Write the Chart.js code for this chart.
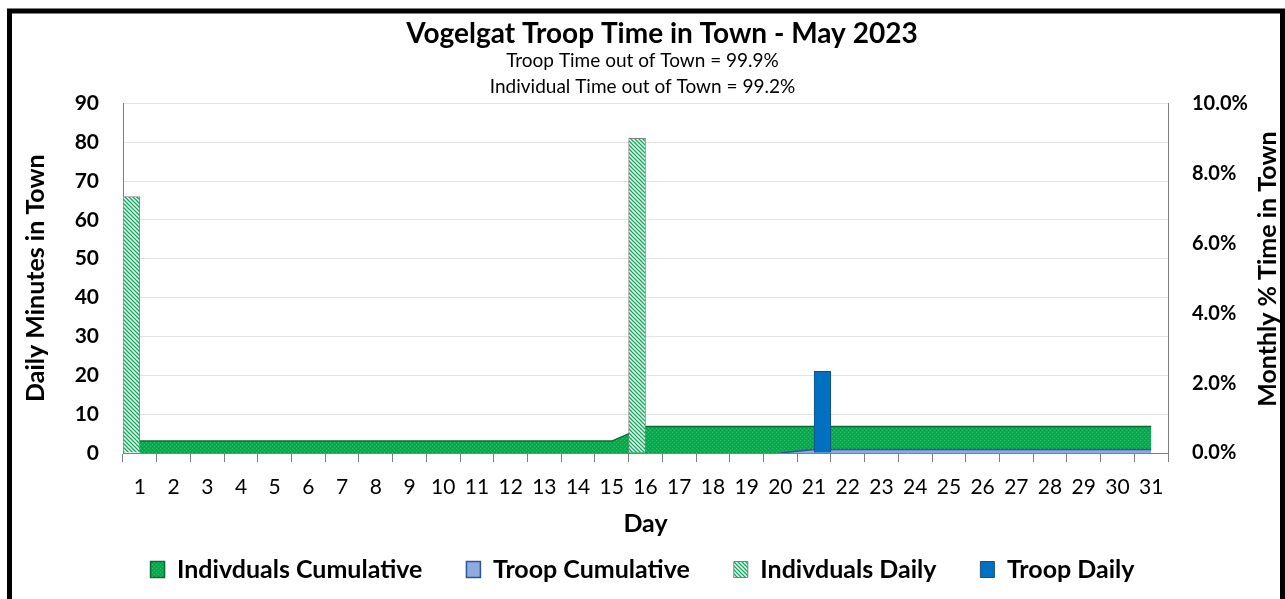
<!DOCTYPE html>
<html>
<head>
<meta charset="utf-8">
<script src="https://cdn.jsdelivr.net/npm/chart.js@4/dist/chart.umd.min.js"></script>
<style>
html,body{margin:0;padding:0;background:#fff;}
#wrap{width:1285px;height:599px;position:relative;}
</style>
</head>
<body>
<div id="wrap"><canvas id="c"></canvas></div>
<script>
const days = ['1','2','3','4','5','6','7','8','9','10','11','12','13','14','15','16','17','18','19','20','21','22','23','24','25','26','27','28','29','30','31'];
const indDaily   = [66,null,null,null,null,null,null,null,null,null,null,null,null,null,null,81,null,null,null,null,null,null,null,null,null,null,null,null,null,null,null];
const troopDaily = [null,null,null,null,null,null,null,null,null,null,null,null,null,null,null,null,null,null,null,null,21,null,null,null,null,null,null,null,null,null,null];
const indCum     = [0.34,0.34,0.34,0.34,0.34,0.34,0.34,0.34,0.34,0.34,0.34,0.34,0.34,0.34,0.34,0.76,0.76,0.76,0.76,0.76,0.76,0.76,0.76,0.76,0.76,0.76,0.76,0.76,0.76,0.76,0.76];
const troopCum   = [null,null,null,null,null,null,null,null,null,null,null,null,null,null,null,null,null,null,null,0,0.1,0.1,0.1,0.1,0.1,0.1,0.1,0.1,0.1,0.1,0.1];
const titleText = 'Vogelgat Troop Time in Town - May 2023';
const subtitleLines = ['Troop Time out of Town = 99.9%', 'Individual Time out of Town = 99.2%'];
const leftTitle = 'Daily Minutes in Town';
const rightTitle = 'Monthly % Time in Town';
const xTitle = 'Day';

const FONT = 'Lato, "Open Sans", sans-serif';

function hatchPattern() {
  const c = document.createElement('canvas');
  c.width = 4; c.height = 4;
  const g = c.getContext('2d');
  g.fillStyle = '#ffffff'; g.fillRect(0,0,4,4);
  g.strokeStyle = '#00B050'; g.lineWidth = 1.3;
  g.beginPath();
  g.moveTo(-1,-1); g.lineTo(5,5);
  g.moveTo(-1,3); g.lineTo(1,5);
  g.moveTo(3,-1); g.lineTo(5,1);
  g.stroke();
  return g.createPattern(c, 'repeat');
}
function dotPattern() {
  const c = document.createElement('canvas');
  c.width = 4; c.height = 4;
  const g = c.getContext('2d');
  g.fillStyle = '#00B050'; g.fillRect(0,0,4,4);
  g.fillStyle = '#2cbf68'; g.fillRect(0,0,1,1); g.fillRect(2,2,1,1);
  g.fillStyle = '#00a349'; g.fillRect(2,0,1,1); g.fillRect(0,2,1,1);
  return g.createPattern(c, 'repeat');
}

const framePlugin = {
  id: 'frame',
  afterDraw(chart) {
    const ctx = chart.ctx;
    ctx.save();
    ctx.strokeStyle = '#000';
    ctx.lineWidth = 5;
    ctx.strokeRect(9.5, 11, 1273, 620);
    ctx.fillStyle = '#000';
    ctx.textAlign = 'center';
    ctx.textBaseline = 'middle';
    ctx.font = 'bold 28px ' + FONT;
    ctx.fillText(titleText, 662, 34);
    ctx.font = 'bold 25px ' + FONT;
    const a = chart.chartArea;
    ctx.translate(1268, (a.top + a.bottom) / 2 - 9);
    ctx.rotate(-Math.PI / 2);
    ctx.fillText(rightTitle, 0, 0);
    ctx.restore();
  }
};

new Chart(document.getElementById('c'), {
  data: {
    labels: days,
    datasets: [
      { type: 'line', label: 'Indivduals Cumulative', data: indCum, yAxisID: 'y2', order: 2,
        backgroundColor: dotPattern(), borderColor: '#0b6b34', borderWidth: 1.5, fill: 'origin',
        pointRadius: 0, tension: 0 },
      { type: 'line', label: 'Troop Cumulative', data: troopCum, yAxisID: 'y2', order: 1,
        backgroundColor: '#8FAADC', borderColor: '#2F5597', borderWidth: 1.5, fill: 'origin',
        pointRadius: 0, tension: 0 },
      { type: 'bar', label: 'Indivduals Daily', data: indDaily, yAxisID: 'y', order: 0,
        backgroundColor: hatchPattern(), borderColor: '#808080', borderWidth: 1,
        categoryPercentage: 1, barPercentage: 1 },
      { type: 'bar', label: 'Troop Daily', data: troopDaily, yAxisID: 'y', order: 0,
        backgroundColor: '#0070C0', borderColor: '#1F4E79', borderWidth: 1,
        categoryPercentage: 1, barPercentage: 1 }
    ]
  },
  options: {
    responsive: true,
    maintainAspectRatio: false,
    animation: false,
    devicePixelRatio: 1,
    layout: { padding: { left: 0, right: 0, top: 0, bottom: 7 } },
    plugins: {
      tooltip: { enabled: false },
      title: { display: false },
      subtitle: { display: true, text: subtitleLines, color: '#000',
        font: { family: FONT, size: 19, weight: 'normal', lineHeight: 1.35 },
        padding: { top: 48, bottom: 4 } },
      legend: { position: 'bottom',
        labels: { color: '#000', font: { family: FONT, size: 25, weight: 'bold' },
          boxWidth: 14, boxHeight: 16, padding: 44,
          sort: (a, b) => a.datasetIndex - b.datasetIndex } }
    },
    scales: {
      x: {
        offset: true,
        grid: { display: true, offset: true, drawOnChartArea: false, drawTicks: true, tickLength: 9, color: '#808080' },
        border: { display: true, color: '#808080', width: 1 },
        ticks: { color: '#000', font: { family: FONT, size: 21 }, padding: 13, maxRotation: 0, autoSkip: false },
        title: { display: true, text: xTitle, color: '#000', font: { family: FONT, size: 25, weight: 'bold', lineHeight: 1.2 },
          padding: { top: 0, bottom: -26 } },
        afterFit(s) { s.height = 60; }
      },
      y: {
        position: 'left', min: 0, max: 90,
        ticks: { stepSize: 10, color: '#000', font: { family: FONT, size: 21, weight: 'bold' }, padding: 24 },
        grid: { color: '#e3e3e3', drawTicks: false },
        border: { display: true, color: '#808080' },
        title: { display: true, text: leftTitle, color: '#000', font: { family: FONT, size: 25, weight: 'bold', lineHeight: 1.2 },
          padding: { top: 21, bottom: 0 } },
        afterFit(s) { s.width = 123; }
      },
      y2: {
        position: 'right', min: 0, max: 10,
        ticks: { stepSize: 2, color: '#000', font: { family: FONT, size: 20, weight: 'bold' }, padding: 24,
          callback: v => Number(v).toFixed(1) + '%' },
        grid: { display: false, drawTicks: false },
        border: { display: true, color: '#808080' },
        afterFit(s) { s.width = 117; }
      }
    }
  },
  plugins: [framePlugin]
});
</script>
</body>
</html>
